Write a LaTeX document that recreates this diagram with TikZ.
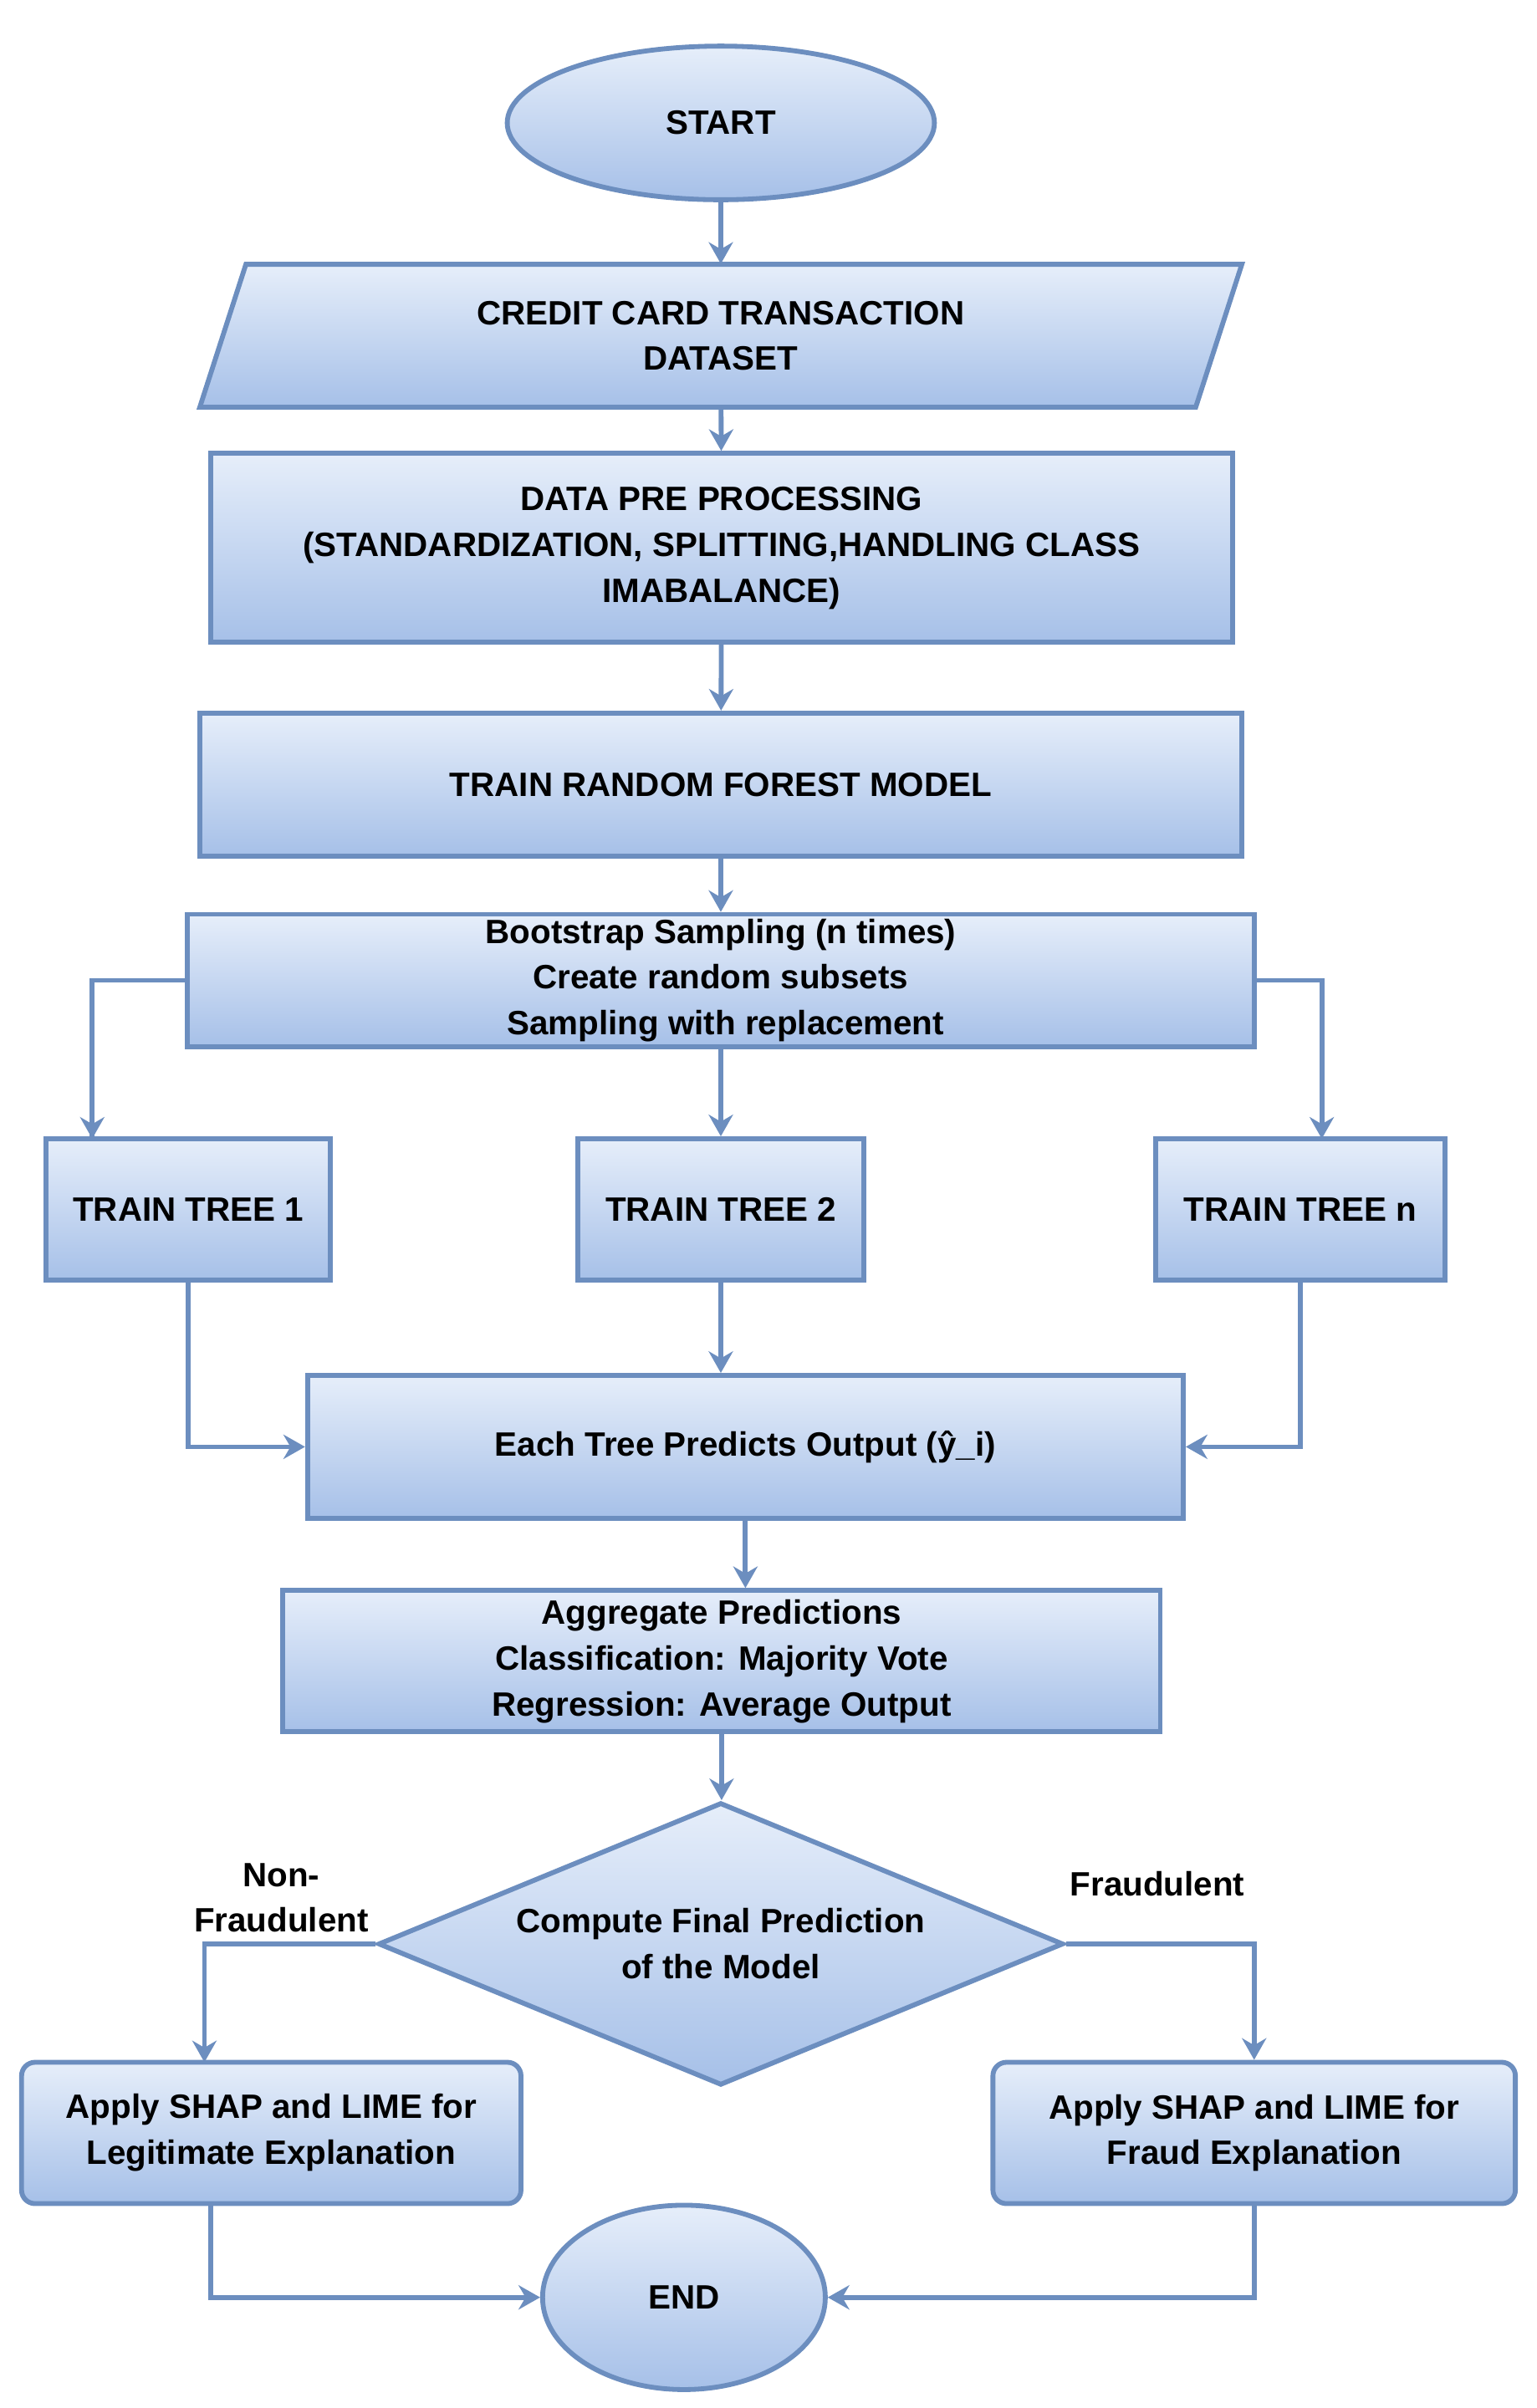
\documentclass[tikz,border=0pt]{standalone}
\usepackage{fontspec}
\setmainfont{Liberation Sans}
\usetikzlibrary{shapes.geometric,arrows.meta}
\definecolor{edge}{HTML}{6C8EBF}
\definecolor{topc}{HTML}{E6EEFA}
\definecolor{botc}{HTML}{A6C0E8}
\begin{document}
\begin{tikzpicture}[x=0.02cm,y=0.02cm,
  every node/.style={font=\bfseries\fontsize{12.5}{17}\selectfont,align=center},
  box/.style={draw=edge,line width=1.8pt,top color=topc,bottom color=botc,inner sep=0pt},
  rbox/.style={box,rectangle,rounded corners=5pt},
  arr/.style={draw=edge,line width=1.8pt,-{Stealth[length=8pt,width=9pt]}},
  lbl/.style={font=\bfseries\fontsize{12.5}{17}\selectfont}]
\useasboundingbox (0,0) rectangle (1000,-1567);
\node[box,ellipse,minimum width=5.56cm,minimum height=2cm] (start) at (469,-80) {START};
\draw[box] (160,-172)--(808,-172)--(778,-265)--(130,-265)--cycle;
\node[minimum width=12.96cm,minimum height=1.86cm,inner sep=0] (ds) at (469,-218.5) {CREDIT CARD TRANSACTION\\DATASET};
\node[box,minimum width=13.3cm,minimum height=2.46cm] (pre) at (469.5,-356.5) {DATA PRE PROCESSING\\(STANDARDIZATION, SPLITTING,HANDLING CLASS\\IMABALANCE)};
\node[box,minimum width=13.56cm,minimum height=1.86cm] (rf) at (469,-510.5) {TRAIN RANDOM FOREST MODEL};
\node[box,minimum width=13.88cm,minimum height=1.72cm] (boot) at (469,-638) {Bootstrap Sampling (n times)\\Create random subsets\\\ Sampling with replacement};
\node[box,minimum width=3.7cm,minimum height=1.84cm] (t1) at (122.5,-787) {TRAIN TREE 1};
\node[box,minimum width=3.72cm,minimum height=1.84cm] (t2) at (469,-787) {TRAIN TREE 2};
\node[box,minimum width=3.76cm,minimum height=1.84cm] (tn) at (846,-787) {TRAIN TREE n};
\node[box,minimum width=11.4cm,minimum height=1.86cm] (pred) at (485,-941.5) {Each Tree Predicts Output (ŷ\_i)};
\node[box,minimum width=11.42cm,minimum height=1.84cm] (agg) at (469.5,-1081) {Aggregate Predictions\\Classification: Majority Vote\\Regression: Average Output};
\node[box,diamond,aspect=2.42,minimum width=8.92cm,minimum height=3.68cm] (dec) at (469,-1265) {Compute Final Prediction\\of the Model};
\node[rbox,minimum width=6.5cm,minimum height=1.84cm] (leg) at (176.5,-1388) {Apply SHAP and LIME for\\Legitimate Explanation};
\node[rbox,minimum width=6.8cm,minimum height=1.84cm] (fr) at (816,-1388) {Apply SHAP and LIME for\\Fraud Explanation};
\node[box,ellipse,minimum width=3.68cm,minimum height=2.4cm] (end) at (445,-1495) {END};
\draw[arr] (start) -- (ds);
\draw[arr] (ds) -- (pre);
\draw[arr] (pre) -- (rf);
\draw[arr] (rf) -- (boot);
\draw[arr] (boot.west) ++(0,0) -| (t1.north west -| 60,0) -- (60,-741);
\draw[arr] (boot) -- (t2);
\draw[arr] (boot.east) -| (860,-741);
\draw[arr] (t1) |- (pred.west);
\draw[arr] (t2) -- (t2 |- pred.north);
\draw[arr] (tn) |- (pred.east);
\draw[arr] (pred) -- (pred |- agg.north);
\draw[arr] (agg) -- (agg |- dec.north);
\draw[arr] (dec.west) -| (133,-1342);
\draw[arr] (dec.east) -| (fr.north);
\draw[arr] (leg.south -| 137,0) |- (end.west);
\draw[arr] (fr) |- (end.east);
\node[lbl] (nf) at (183,-1235) {Non-\\Fraudulent};
\node[lbl] (fl) at (753,-1226) {Fraudulent};
\end{tikzpicture}
\end{document}
